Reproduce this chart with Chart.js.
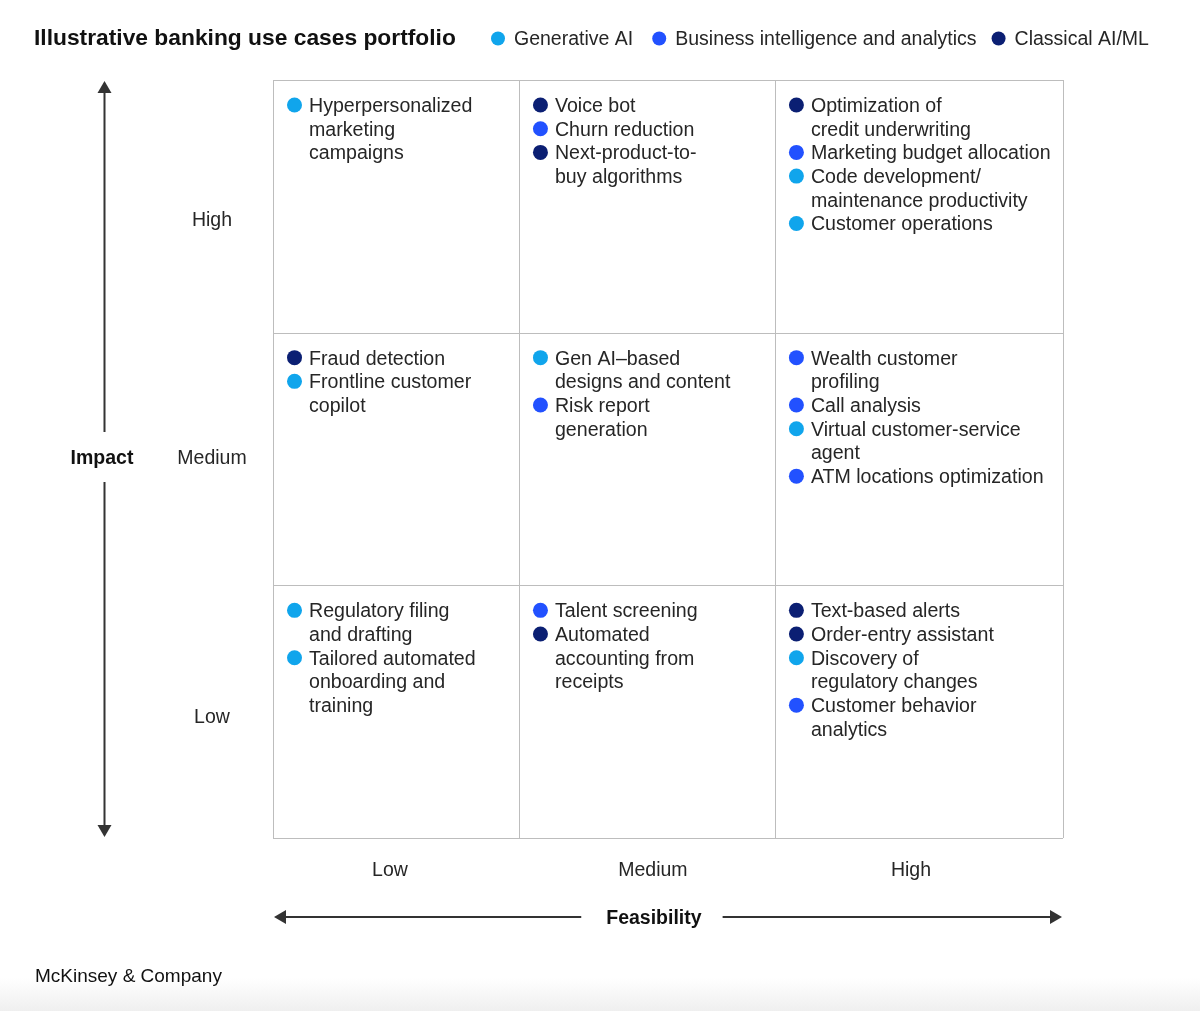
<!DOCTYPE html>
<html><head><meta charset="utf-8">
<script src="https://cdn.jsdelivr.net/npm/chart.js@4.4.1/dist/chart.umd.min.js"></script>
<style>
html,body{margin:0;padding:0;}
body{width:1200px;height:1011px;overflow:hidden;background:linear-gradient(to bottom,#ffffff 0px,#ffffff 978px,#efefef 1011px);}
#wrap{position:relative;width:1200px;height:1011px;}
canvas{display:block;}
</style></head>
<body><div id="wrap"><canvas id="c" width="1200" height="1011"></canvas></div>
<script>
// ---------- data ----------
const chartTitle = 'Illustrative banking use cases portfolio';
const sourceNote = 'McKinsey & Company';
const levelLabels = ['Low', 'Medium', 'High'];
const xAxisTitle = 'Feasibility';
const yAxisTitle = 'Impact';
const categoryNames = ['Generative AI', 'Business intelligence and analytics', 'Classical AI/ML'];
const categoryColors = ['#10A5EC', '#2251FF', '#0B1F73'];

// use cases (line breaks as shown), category index, feasibility level (0..2), impact level (0..2)
const useCaseLabels = [
  'Hyperpersonalized\nmarketing\ncampaigns',
  'Voice bot', 'Churn reduction', 'Next-product-to-\nbuy algorithms',
  'Optimization of\ncredit underwriting', 'Marketing budget allocation', 'Code development/\nmaintenance productivity', 'Customer operations',
  'Fraud detection', 'Frontline customer\ncopilot',
  'Gen AI\u2013based\ndesigns and content', 'Risk report\ngeneration',
  'Wealth customer\nprofiling', 'Call analysis', 'Virtual customer-service\nagent', 'ATM locations optimization',
  'Regulatory filing\nand drafting', 'Tailored automated\nonboarding and\ntraining',
  'Talent screening', 'Automated\naccounting from\nreceipts',
  'Text-based alerts', 'Order-entry assistant', 'Discovery of\nregulatory changes', 'Customer behavior\nanalytics'
];
const useCaseCategory = [
  0,
  2, 1, 2,
  2, 1, 0, 0,
  2, 0,
  0, 1,
  1, 1, 0, 1,
  0, 0,
  1, 2,
  2, 2, 0, 1
];
const useCaseFeasibility = [
  0,
  1, 1, 1,
  2, 2, 2, 2,
  0, 0,
  1, 1,
  2, 2, 2, 2,
  0, 0,
  1, 1,
  2, 2, 2, 2
];
const useCaseImpact = [
  2,
  2, 2, 2,
  2, 2, 2, 2,
  1, 1,
  1, 1,
  1, 1, 1, 1,
  0, 0,
  0, 0,
  0, 0, 0, 0
];

// ---------- build datasets ----------
const FONT = "'Liberation Sans', Arial, sans-serif";
const datasets = categoryNames.map((name, c) => ({
  label: name,
  backgroundColor: categoryColors[c],
  pointRadius: 0,
  data: useCaseLabels.map((l, i) => ({ x: useCaseFeasibility[i], y: useCaseImpact[i], label: l, idx: i, cat: useCaseCategory[i] }))
        .filter(p => p.cat === c)
}));

function arrowHead(ctx, x, y, dir, w, h) {
  ctx.beginPath();
  if (dir === 'up') { ctx.moveTo(x, y); ctx.lineTo(x - w / 2, y + h); ctx.lineTo(x + w / 2, y + h); }
  if (dir === 'down') { ctx.moveTo(x, y); ctx.lineTo(x - w / 2, y - h); ctx.lineTo(x + w / 2, y - h); }
  if (dir === 'left') { ctx.moveTo(x, y); ctx.lineTo(x + h, y - w / 2); ctx.lineTo(x + h, y + w / 2); }
  if (dir === 'right') { ctx.moveTo(x, y); ctx.lineTo(x - h, y - w / 2); ctx.lineTo(x - h, y + w / 2); }
  ctx.closePath(); ctx.fill();
}

const matrixPlugin = {
  id: 'matrix',
  afterDraw(chart, args, opts) {
    const ctx = chart.ctx, xs = chart.scales.x, ys = chart.scales.y;
    const ca = chart.chartArea;
    const xPix = opts.columnEdges.map(v => xs.getPixelForValue(v));
    const yPix = [0, 1, 2, 3].map(v => ys.getPixelForValue(v)); // bottom -> top
    ctx.save();

    // grid
    ctx.strokeStyle = '#BDBDBD'; ctx.lineWidth = 1;
    xPix.forEach(px => { const p = Math.round(px) + 0.5; ctx.beginPath(); ctx.moveTo(p, yPix[3]); ctx.lineTo(p, yPix[0]); ctx.stroke(); });
    yPix.forEach(py => { const p = Math.round(py) + 0.5; ctx.beginPath(); ctx.moveTo(xPix[0], p); ctx.lineTo(xPix[3], p); ctx.stroke(); });

    // items
    const lineH = 23.7;
    ctx.font = '19.6px ' + FONT; ctx.textBaseline = 'middle'; ctx.textAlign = 'left';
    for (let f = 0; f < 3; f++) {
      for (let im = 0; im < 3; im++) {
        const left = xPix[f], top = yPix[im + 1];
        let y = top + 25.5;
        useCaseLabels.forEach((lab, i) => {
          if (useCaseFeasibility[i] !== f || useCaseImpact[i] !== im) return;
          ctx.fillStyle = categoryColors[useCaseCategory[i]];
          ctx.beginPath(); ctx.arc(left + 21.5, y - 0.5, 7.5, 0, Math.PI * 2); ctx.fill();
          ctx.fillStyle = '#262626';
          lab.split('\n').forEach(line => { ctx.fillText(line, left + 36, y + 1); y += lineH; });
        });
      }
    }

    // level labels
    ctx.fillStyle = '#262626'; ctx.font = '19.5px ' + FONT; ctx.textAlign = 'center';
    for (let k = 0; k < 3; k++) {
      ctx.fillText(levelLabels[k], (xPix[k] + xPix[k + 1]) / 2 + opts.xLabelShift[k], ca.bottom + 33);
      ctx.fillText(levelLabels[k], 212, (yPix[k] + yPix[k + 1]) / 2 + opts.yLabelShift[k]);
    }

    // axis arrows
    ctx.strokeStyle = '#333'; ctx.fillStyle = '#333'; ctx.lineWidth = 2;
    const ax = 104.5, midY = (ca.top + ca.bottom) / 2 - 1;
    ctx.beginPath(); ctx.moveTo(ax, ca.top + 10); ctx.lineTo(ax, midY - 26); ctx.stroke();
    ctx.beginPath(); ctx.moveTo(ax, midY + 24); ctx.lineTo(ax, ca.bottom - 10); ctx.stroke();
    arrowHead(ctx, ax, ca.top + 1, 'up', 14, 12);
    arrowHead(ctx, ax, ca.bottom - 1, 'down', 14, 12);
    ctx.font = 'bold 19.5px ' + FONT; ctx.fillStyle = '#111';
    ctx.fillText(yAxisTitle, 102, midY + 1);

    const hy = ca.bottom + 79;
    const fx = (xPix[1] + xPix[2]) / 2 + 7;
    const fw = ctx.measureText(xAxisTitle).width;
    ctx.fillText(xAxisTitle, fx, hy + 1.5);
    ctx.fillStyle = '#333';
    ctx.beginPath(); ctx.moveTo(xPix[0] + 10, hy); ctx.lineTo(fx - fw / 2 - 25, hy); ctx.stroke();
    ctx.beginPath(); ctx.moveTo(fx + fw / 2 + 21, hy); ctx.lineTo(xPix[3] - 10, hy); ctx.stroke();
    arrowHead(ctx, xPix[0] + 1, hy, 'left', 14, 12);
    arrowHead(ctx, xPix[3] - 1, hy, 'right', 14, 12);

    // title
    ctx.textAlign = 'left'; ctx.fillStyle = '#111';
    ctx.font = 'bold 22.8px ' + FONT;
    ctx.fillText(chartTitle, 34, 39);

    // legend
    ctx.font = '19.5px ' + FONT;
    let lx = 498;
    categoryNames.forEach((name, c) => {
      ctx.fillStyle = categoryColors[c];
      ctx.beginPath(); ctx.arc(lx, 38.5, 7, 0, Math.PI * 2); ctx.fill();
      ctx.fillStyle = '#262626';
      ctx.fillText(name, lx + 16, 39.5);
      lx += 16 + ctx.measureText(name).width + (opts.legendGaps[c] || 0);
    });

    // source
    ctx.font = '19px ' + FONT; ctx.fillStyle = '#111';
    ctx.fillText(sourceNote, 35, 977);
    ctx.restore();
  }
};

new Chart(document.getElementById('c'), {
  type: 'scatter',
  data: { datasets },
  options: {
    responsive: false,
    animation: false,
    layout: { padding: { left: 273, right: 137, top: 80, bottom: 173 } },
    scales: {
      x: { type: 'linear', min: 0, max: 3, display: false },
      y: { type: 'linear', min: 0, max: 3, display: false }
    },
    plugins: {
      legend: { display: false },
      tooltip: { enabled: false },
      matrix: {
        columnEdges: [0, 0.934, 1.906, 3],
        xLabelShift: [-6, 6, -8],
        yLabelShift: [6, 0, 14],
        legendGaps: [26, 22, 0]
      }
    }
  },
  plugins: [matrixPlugin]
});
</script>
</body></html>
